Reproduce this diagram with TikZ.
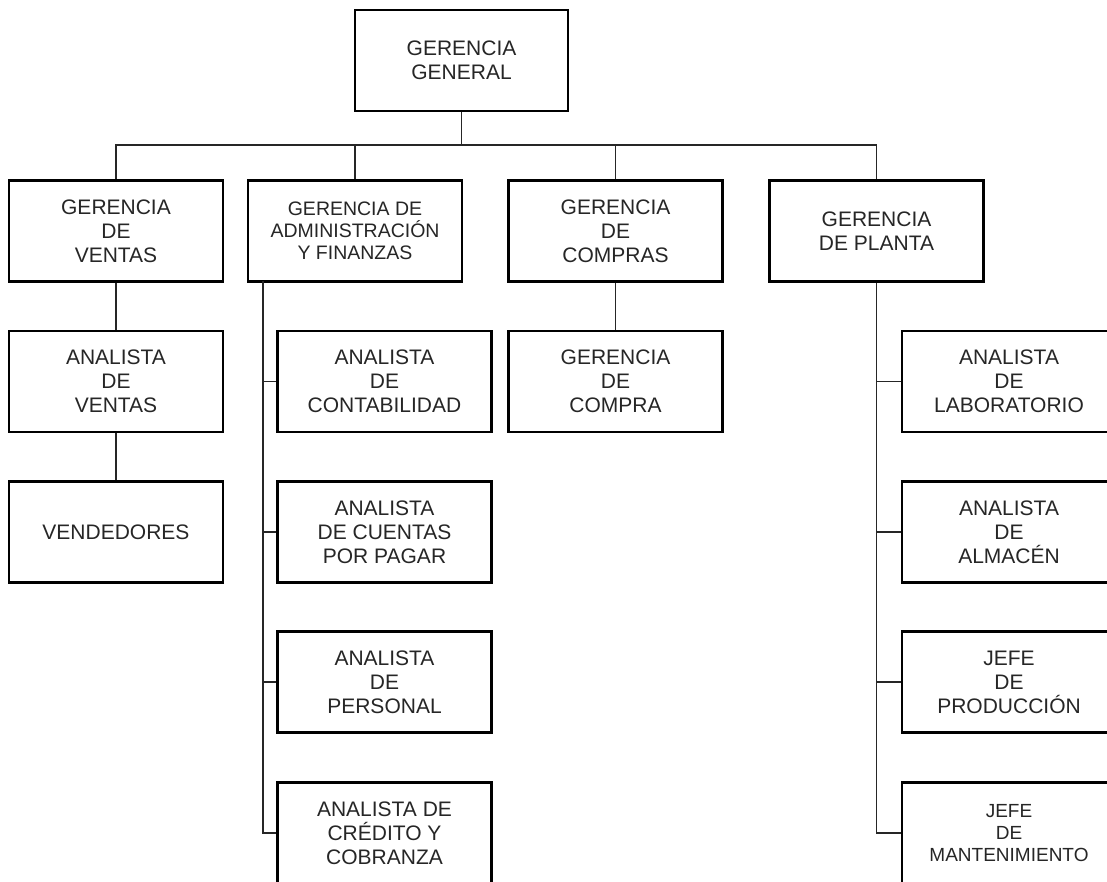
\documentclass[tikz,border=0pt]{standalone}
\usepackage{fontspec}
\setmainfont{Liberation Sans}
\tikzset{
  box/.style={draw=black, line width=2.6pt, rectangle, inner sep=0pt, align=center,
    text=black!85, font=\fontsize{21}{24}\selectfont},
  smalltext/.style={font=\fontsize{19.5}{22}\selectfont},
  tinytext/.style={font=\fontsize{19}{22}\selectfont},
  link/.style={draw=black!85, line width=1.3pt},
  bw/.style={minimum width=214pt, minimum height=101pt}
}
\begin{document}
\begin{tikzpicture}[x=1pt,y=-1pt]
\clip (0,0) rectangle (1107,882);
\fill[white] (0,0) rectangle (1107,882);
% top
\node[box, minimum width=213pt, minimum height=101pt] (gg) at (461.5,60.5) {GERENCIA\\GENERAL};
% second row
\node[box,bw] (gv) at (116,231) {GERENCIA\\DE\\VENTAS};
\node[box,bw,smalltext] (ga) at (355,231) {GERENCIA DE\\ADMINISTRACIÓN\\Y FINANZAS};
\node[box,bw] (gc) at (615.5,231) {GERENCIA\\DE\\COMPRAS};
\node[box,bw] (gp) at (876.5,231) {GERENCIA\\DE PLANTA};
% ventas column
\node[box,bw] (av) at (116,381.5) {ANALISTA\\DE\\VENTAS};
\node[box,bw] (ve) at (116,532) {VENDEDORES};
% admin column
\node[box,bw] (a1) at (384.5,381.5) {ANALISTA\\DE\\CONTABILIDAD};
\node[box,bw] (a2) at (384.5,532) {ANALISTA\\DE CUENTAS\\POR PAGAR};
\node[box,bw] (a3) at (384.5,682) {ANALISTA\\DE\\PERSONAL};
\node[box,bw] (a4) at (384.5,833) {ANALISTA DE\\CRÉDITO Y\\COBRANZA};
% compras column
\node[box,bw] (cc) at (615.5,381.5) {GERENCIA\\DE\\COMPRA};
% planta column
\node[box,bw] (p1) at (1009,381.5) {ANALISTA\\DE\\LABORATORIO};
\node[box,bw] (p2) at (1009,532) {ANALISTA\\DE\\ALMACÉN};
\node[box,bw] (p3) at (1009,682) {JEFE\\DE\\PRODUCCIÓN};
\node[box,bw,tinytext] (p4) at (1009,833) {JEFE\\DE\\MANTENIMIENTO};
% connectors
\coordinate (bus) at (461.5,145);
\coordinate (adm) at (263,281.5);
\draw[link] (gg.south) -- (bus);
\draw[link] (gv.north) |- (bus) -| (gp.north);
\draw[link] (ga.north) -- (ga.north |- bus);
\draw[link] (gc.north) -- (gc.north |- bus);
\draw[link] (gv.south) -- (av.north);
\draw[link] (av.south) -- (ve.north);
\draw[link] (gc.south) -- (cc.north);
\draw[link] (adm) |- (a4.west);
\draw[link] (adm |- a1.west) -- (a1.west);
\draw[link] (adm |- a2.west) -- (a2.west);
\draw[link] (adm |- a3.west) -- (a3.west);
\draw[link] (gp.south) |- (p4.west);
\draw[link] (gp.south |- p1.west) -- (p1.west);
\draw[link] (gp.south |- p2.west) -- (p2.west);
\draw[link] (gp.south |- p3.west) -- (p3.west);
\end{tikzpicture}
\end{document}
